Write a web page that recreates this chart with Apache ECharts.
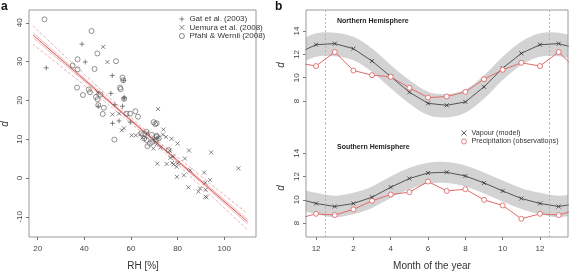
<!DOCTYPE html>
<html><head><meta charset="utf-8">
<script src="https://cdn.jsdelivr.net/npm/echarts@6/dist/echarts.min.js"></script>
<style>html,body{margin:0;padding:0;background:#fff}#c{width:571px;height:272px}</style>
</head><body><div id="c"></div><script>
// ---------- Panel a data ----------
const gatRH = [23.7,39,40.4,52,56.9,57,46,52.1,54.9,59.7,53.1,51.4,57.1,56.4];
const gatD  = [28.4,34.5,29.9,26.4,25.1,20.4,18.5,14.1,14.7,14.4,18.9,21.8,20.8,18.5];
const uemRH = [48.1,49.9,45.7,52.1,54.9,57,60.3,62.1,64.1,71.6,73.9,73.7,75,77.4,64.9,67,71.7,
  56.1,66,69.9,69.6,71,72.7,80,76.6,76.9,77.7,78.1,75.3,71.3,78.3,80.1,79.6,79.7,82.7,83.1,84.9,85.4,84.6,88.9,89.6,91.4,92,92,92.4,93.9,94.4,106.1,91.9];
const uemD  = [33.8,29.9,22.0,16.4,16.6,12.8,11.0,11.0,11.3,17.8,12.5,11.2,10.6,10.1,10.4,11.6,10.4,
  12.3,10.6,9.9,7.6,8.7,7.9,8.9,7.1,5.2,3.9,5.6,3.6,3.7,3.5,3.8,2.9,0.3,0.7,5.0,7.1,2.0,-2.4,-3.5,-2.7,1.4,-3.0,-4.8,-5.0,-0.5,6.6,2.5,-1.2];
const pwRH  = [22.9,43.1,37.1,45.6,53.6,44.4,35,37.1,36.9,39.4,41.9,42.4,45,46.9,45.7,46,48.4,47.9,55.3,55.6,56.4,56.7,57.1,58.1,61.9,63,59.6,69.7,70.4,71,52.9,66.7,68.9,71,64.4,65.7,66.7,68.1,67.1,69.1,70.6,71,71.9,76.1];
const pwD   = [40.9,37.9,30.6,32.1,30.1,28.1,29.0,28.0,23.3,21.4,22.8,22.1,20.9,21.5,20.3,18.8,18.1,16.5,23.3,22.9,25.9,25.2,20.4,16.6,17.2,15.8,16.6,14.4,13.9,14.1,9.9,11.9,11.1,10.6,11.5,10.2,9.8,8.9,8.2,9.3,9.8,10.9,10.2,7.2];
// regression lines
const fitRH       = [18, 40, 67, 90, 110];
const fitCenter   = [36.85, 25.34, 11.22, -0.81, -11.27];
const fitUpSolid  = [37.50, 25.73, 11.42, -0.46, -10.69];
const fitLoSolid  = [36.20, 24.95, 11.02, -1.16, -11.85];
const fitUpDash   = [39.23, 26.77, 11.92, 0.47, -9.16];
const fitLoDash   = [34.47, 23.91, 10.52, -2.09, -13.38];
const xTicksA = [20, 40, 60, 80, 100];
const yTicksA = [-10, 0, 10, 20, 30, 40];

// ---------- Panel b data (Jan..Dec) ----------
const nVap    = [12.92,12.49,11.43,10.10,8.76,7.81,7.64,7.93,9.22,10.82,12.09,12.83];
const nPre    = [12.2,10.62,10.22,10.08,9.14,8.3,8.39,8.79,9.88,10.68,11.28,11.0];
const nBandHi = [13.85,13.5,12.5,11.1,9.8,8.8,8.6,9.0,10.2,11.8,13.1,13.8];
const nBandLo = [11.85,11.5,10.5,9.1,7.8,6.8,6.6,7.0,8.2,9.8,11.1,11.8];
const sVap    = [9.42,9.68,10.22,11.08,11.83,12.31,12.37,12.05,11.45,10.76,10.11,9.68];
const sPre    = [8.68,9.17,9.91,10.45,10.65,11.57,10.76,10.91,9.99,9.51,8.36,8.79];
const sBandHi = [10.35,10.6,11.15,12.0,12.75,13.2,13.25,12.95,12.35,11.65,11.0,10.6];
const sBandLo = [8.5,8.75,9.3,10.15,10.9,11.4,11.45,11.15,10.55,9.85,9.2,8.75];
const monthPos = [-1,0,1,2,3,4,5,6,7,8,9,10,11,12,13,14]; // 0 = December, 13 = January
const xTicksB = [0, 2, 4, 6, 8, 10, 12];
const xTickLabelsB = ['12','2','4','6','8','10','12'];
const yTicksB = [8, 10, 12, 14];

// ---------- helpers ----------
const zip = (a, b) => a.map((v, i) => [v, b[i]]);
const mIdx = m => ((m - 1) % 12 + 12) % 12;
const periodic = arr => monthPos.map(m => [m, arr[mIdx(m)]]);
const bandData = (lo, hi) => monthPos.map(m => [m, lo[mIdx(m)], hi[mIdx(m)]]);

const FONT = '"Liberation Sans", Arial, Helvetica, sans-serif';
const plusPath  = 'path://M0,5L10,5M5,0L5,10';
const crossPath = 'path://M0,0L10,10M10,0L0,10';
const tickColor = '#555', labelColor = '#444', frameColor = '#9a9a9a';
const markGray = '#444', redCol = '#e06a6a';

const chart = echarts.init(document.getElementById('c'), null, {renderer: 'canvas'});

function yAxisCfg(gridIndex, min, max, ticks) {
  return {
    type: 'value', gridIndex, min, max, splitLine: {show: false},
    axisLine: {show: false, onZero: false},
    axisTick: {show: true, length: 3, lineStyle: {color: tickColor, width: 0.8}, customValues: ticks},
    axisLabel: {show: true, rotate: 90, margin: 5, fontSize: 8, color: labelColor, fontFamily: FONT, customValues: ticks}
  };
}
function xAxisCfg(gridIndex, min, max, ticks, labels) {
  return {
    type: 'value', gridIndex, min, max, splitLine: {show: false},
    axisLine: {show: false, onZero: false},
    axisTick: {show: true, length: 3, lineStyle: {color: tickColor, width: 0.8}, customValues: ticks},
    axisLabel: {show: true, margin: 8, fontSize: 8, color: labelColor, fontFamily: FONT, customValues: ticks,
      formatter: labels ? (v => { const i = ticks.indexOf(v); return i >= 0 ? labels[i] : ''; }) : null}
  };
}

const fitLine = (vals, color, width, type) => ({
  type: 'line', xAxisIndex: 0, yAxisIndex: 0, data: zip(fitRH, vals), smooth: true,
  showSymbol: false, symbol: 'none', silent: true, z: 3,
  lineStyle: {color, width, type}
});

// Catmull-Rom style smooth path through points (for the band outline)
function smoothSeg(pts) {
  let s = '';
  for (let i = 0; i < pts.length - 1; i++) {
    const p0 = pts[Math.max(0, i - 1)], p1 = pts[i], p2 = pts[i + 1], p3 = pts[Math.min(pts.length - 1, i + 2)];
    const c1 = [p1[0] + (p2[0] - p0[0]) / 6, p1[1] + (p2[1] - p0[1]) / 6];
    const c2 = [p2[0] - (p3[0] - p1[0]) / 6, p2[1] - (p3[1] - p1[1]) / 6];
    s += ` C${c1[0]},${c1[1]} ${c2[0]},${c2[1]} ${p2[0]},${p2[1]}`;
  }
  return s;
}
function bandPath(up, dn) {
  return `M${up[0][0]},${up[0][1]}` + smoothSeg(up) + ` L${dn[0][0]},${dn[0][1]}` + smoothSeg(dn) + ' Z';
}

const bandSeries = (xi, lo, hi) => ({
  type: 'custom', xAxisIndex: xi, yAxisIndex: xi, data: bandData(lo, hi), silent: true, z: 1,
  encode: {x: 0, y: [1, 2]},
  renderItem: (params, api) => {
    if (params.dataIndex !== 0) return null;
    const d = bandData(lo, hi);
    const up = d.map(p => api.coord([p[0], p[2]]));
    const dn = d.map(p => api.coord([p[0], p[1]])).reverse();
    const cs = params.coordSys;
    return {
      type: 'group',
      clipPath: {type: 'rect', shape: {x: cs.x, y: cs.y, width: cs.width, height: cs.height}},
      children: [
        {type: 'path', shape: {pathData: bandPath(up, dn)}, style: {fill: '#d3d3d3', stroke: null}}
      ]
    };
  }
});

const vlines = {
  silent: true, symbol: 'none', label: {show: false},
  lineStyle: {color: '#aaa', type: [2, 2], width: 0.8},
  data: [{xAxis: 0.5}, {xAxis: 12.5}]
};

const vapSeries = (xi, arr, name, withMark) => ({
  type: 'line', name, xAxisIndex: xi, yAxisIndex: xi, data: periodic(arr),
  symbol: crossPath, symbolSize: 4, showAllSymbol: true, z: 4,
  lineStyle: {color: '#333', width: 0.8},
  itemStyle: {color: 'transparent', borderColor: '#333', borderWidth: 0.8},
  markLine: withMark ? vlines : undefined
});
const preSeries = (xi, arr, name) => ({
  type: 'line', name, xAxisIndex: xi, yAxisIndex: xi, data: periodic(arr),
  symbol: 'circle', symbolSize: 5, showAllSymbol: true, z: 5,
  lineStyle: {color: redCol, width: 1},
  itemStyle: {color: '#fff', borderColor: redCol, borderWidth: 0.9}
});

const option = {
  animation: false,
  backgroundColor: '#fff',
  textStyle: {fontFamily: FONT},
  grid: [
    {left: 29, top: 10, width: 227, height: 227, show: true, borderColor: frameColor, borderWidth: 1, backgroundColor: 'transparent'},
    {left: 306, top: 10, width: 262, height: 114, show: false},
    {left: 306, top: 124, width: 262, height: 113, show: false},
    {left: 306, top: 10, width: 262, height: 227, show: true, borderColor: frameColor, borderWidth: 1, backgroundColor: 'transparent', z: 10}
  ],
  xAxis: [
    xAxisCfg(0, 16.3, 113.6, xTicksA, null),
    Object.assign(xAxisCfg(1, -0.54, 13.5, xTicksB, xTickLabelsB), {axisTick: {show: false}, axisLabel: {show: false}}),
    xAxisCfg(2, -0.54, 13.5, xTicksB, xTickLabelsB),
    {type: 'value', gridIndex: 3, show: false, min: 0, max: 1}
  ],
  yAxis: [
    yAxisCfg(0, -15.2, 43.3, yTicksA),
    yAxisCfg(1, 6.04, 15.8, yTicksB),
    yAxisCfg(2, 6.79, 16.53, yTicksB),
    {type: 'value', gridIndex: 3, show: false, min: 0, max: 1}
  ],
  legend: [
    {
      orient: 'vertical', left: 179, top: 15, itemWidth: 5, itemHeight: 5, itemGap: 0.5, padding: 0,
      textStyle: {fontSize: 8, color: '#333', fontFamily: FONT, lineHeight: 8},
      data: [
        {name: 'Gat et al. (2003)', icon: plusPath, itemStyle: {color: 'transparent', borderColor: markGray, borderWidth: 0.8}},
        {name: 'Uemura et al. (2008)', icon: crossPath, itemStyle: {color: 'transparent', borderColor: markGray, borderWidth: 0.8}},
        {name: 'Pfahl & Wernli (2008)', icon: 'circle', itemStyle: {color: '#fff', borderColor: markGray, borderWidth: 0.8}}
      ]
    },
    {
      orient: 'vertical', left: 461, top: 129, itemWidth: 5, itemHeight: 5, itemGap: 0.5, padding: 0,
      textStyle: {fontSize: 7.2, color: '#333', fontFamily: FONT, lineHeight: 8},
      data: [
        {name: 'Vapour (model)', icon: crossPath, itemStyle: {color: 'transparent', borderColor: '#333', borderWidth: 0.8}},
        {name: 'Precipitation (observations)', icon: 'circle', itemStyle: {color: '#fff', borderColor: redCol, borderWidth: 0.9}}
      ]
    }
  ],
  graphic: [
    {type: 'text', left: 1, top: 1, style: {text: 'a', font: 'bold 12px ' + FONT, fill: '#111'}},
    {type: 'text', left: 275, top: 1, style: {text: 'b', font: 'bold 12px ' + FONT, fill: '#111'}},
    {type: 'text', x: 5, y: 124, rotation: Math.PI / 2, style: {text: 'd', font: 'italic 10px ' + FONT, fill: '#333', align: 'center', verticalAlign: 'middle'}},
    {type: 'text', x: 281, y: 65, rotation: Math.PI / 2, style: {text: 'd', font: 'italic 10px ' + FONT, fill: '#333', align: 'center', verticalAlign: 'middle'}},
    {type: 'text', x: 281, y: 188, rotation: Math.PI / 2, style: {text: 'd', font: 'italic 10px ' + FONT, fill: '#333', align: 'center', verticalAlign: 'middle'}},
    {type: 'text', x: 143, y: 266, style: {text: 'RH [%]', font: '10px ' + FONT, fill: '#333', align: 'center', verticalAlign: 'middle'}},
    {type: 'text', x: 432, y: 266, style: {text: 'Month of the year', font: '10px ' + FONT, fill: '#333', align: 'center', verticalAlign: 'middle'}},
    {type: 'text', x: 337, y: 21, style: {text: 'Northern Hemisphere', font: 'bold 7px ' + FONT, fill: '#222', align: 'left', verticalAlign: 'middle'}},
    {type: 'text', x: 337, y: 147, style: {text: 'Southern Hemisphere', font: 'bold 7px ' + FONT, fill: '#222', align: 'left', verticalAlign: 'middle'}}
  ],
  series: [
    fitLine(fitUpDash, '#e79a9a', 0.8, [3, 2]),
    fitLine(fitLoDash, '#e79a9a', 0.8, [3, 2]),
    fitLine(fitUpSolid, '#eba5a5', 0.8, 'solid'),
    fitLine(fitLoSolid, '#eba5a5', 0.8, 'solid'),
    fitLine(fitCenter, '#d84a4a', 1, 'solid'),
    {type: 'scatter', name: 'Gat et al. (2003)', xAxisIndex: 0, yAxisIndex: 0, data: zip(gatRH, gatD),
     symbol: plusPath, symbolSize: 5, z: 4, itemStyle: {color: 'transparent', borderColor: markGray, borderWidth: 0.8}},
    {type: 'scatter', name: 'Uemura et al. (2008)', xAxisIndex: 0, yAxisIndex: 0, data: zip(uemRH, uemD),
     symbol: crossPath, symbolSize: 4, z: 4, itemStyle: {color: 'transparent', borderColor: markGray, borderWidth: 0.8}},
    {type: 'scatter', name: 'Pfahl & Wernli (2008)', xAxisIndex: 0, yAxisIndex: 0, data: zip(pwRH, pwD),
     symbol: 'circle', symbolSize: 5, z: 4, itemStyle: {color: 'rgba(255,255,255,0)', borderColor: '#555', borderWidth: 0.8}},
    bandSeries(1, nBandLo, nBandHi),
    bandSeries(2, sBandLo, sBandHi),
    vapSeries(1, nVap, 'Vapour (model)', true),
    preSeries(1, nPre, 'Precipitation (observations)'),
    vapSeries(2, sVap, 'Vapour (model)', true),
    preSeries(2, sPre, 'Precipitation (observations)')
  ]
};
chart.setOption(option);
</script></body></html>
